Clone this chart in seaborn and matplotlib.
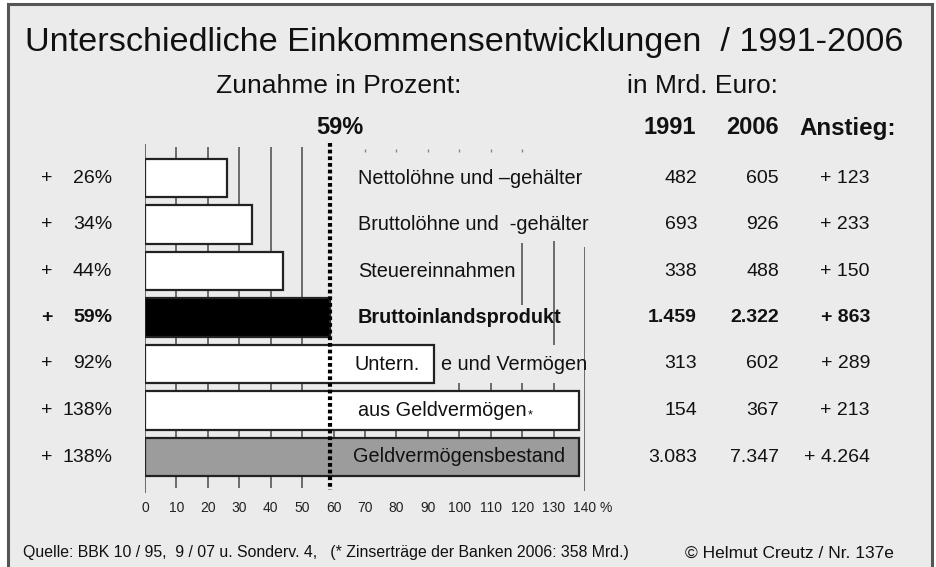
import matplotlib
matplotlib.use("Agg")
import matplotlib.pyplot as plt
from matplotlib import transforms
from matplotlib.patches import Rectangle
import seaborn as sns
import pandas as pd

# ---------------- data ----------------
categories = ["Nettolöhne und –gehälter", "Bruttolöhne und  -gehälter", "Steuereinnahmen",
              "Bruttoinlandsprodukt", "Untern.einkommen und Vermögen",
              "Einkommen aus Geldvermögen", "Geldvermögensbestand"]
pct = [26, 34, 44, 59, 92, 138, 138]
pct_labels = ["26%", "34%", "44%", "59%", "92%", "138%", "138%"]
val_1991 = ["482", "693", "338", "1.459", "313", "154", "3.083"]
val_2006 = ["605", "926", "488", "2.322", "602", "367", "7.347"]
anstieg = ["+ 123", "+ 233", "+ 150", "+ 863", "+ 289", "+ 213", "+ 4.264"]
bar_colors = ["#ffffff", "#ffffff", "#ffffff", "#000000", "#ffffff", "#ffffff", "#9c9c9c"]
bold_rows = [3]
x_ticks = list(range(0, 141, 10))
bip_pct = 59

# ---------------- fonts ----------------
sns.set_style("white")
FONT = "Liberation Sans"
plt.rcParams["font.family"] = [FONT, "DejaVu Sans"]
TXT = "#111111"

W, H = 936, 567
fig = plt.figure(figsize=(W / 100, H / 100), dpi=100)
fig.patch.set_facecolor("white")
fig.patches.append(Rectangle((8 / W, -0.02), 924 / W, 1.02 - 4 / H, transform=fig.transFigure,
                             facecolor="#ebebeb", edgecolor="#555555", linewidth=2.2, zorder=-10))

# axes: x=0 -> px 145, x=140 -> px 585 ; rows at px 178 + 46.5*i
ax_left, ax_right, ax_top, ax_bot = 145, 585, 143, 493
ax = fig.add_axes([ax_left / W, 1 - ax_bot / H, (ax_right - ax_left) / W, (ax_bot - ax_top) / H])
ax.patch.set_alpha(0)
row0, step = 178, 46.5
y_top = (ax_top - row0) / step
y_bot = (ax_bot - row0) / step

df = pd.DataFrame({"cat": categories, "pct": pct})
sns.barplot(data=df, x="pct", y="cat", hue="cat", palette=bar_colors, orient="h", width=0.82,
            edgecolor="#222222", linewidth=1.6, saturation=1, legend=False, ax=ax, zorder=3)

ax.set_xlim(0, 140)
ax.set_ylim(y_bot, y_top)
for s in ax.spines.values():
    s.set_visible(False)
ax.set_xlabel("")
ax.set_ylabel("")
ax.set_yticks([])
ax.set_xticks(x_ticks)
ax.set_xticklabels([str(t) for t in x_ticks], fontsize=10, color="#222222")
ax.tick_params(axis="x", direction="in", length=11.5, width=1.2, color="#555555", pad=6)

# grid / decorative lines
gc, glw = "#555555", 1.2
ax.vlines([0], y_top + 0.03, y_bot, color=gc, lw=glw, zorder=1)
ax.vlines([10, 20, 30, 40, 50], y_top + 0.08, y_bot - 0.1, color=gc, lw=glw, zorder=1)
ax.vlines([100, 110, 120, 130], 4.41, 4.59, color=gc, lw=glw, zorder=1)
ax.vlines([60, 70, 80, 90, 100, 110, 120, 130], 5.41, 5.59, color=gc, lw=glw, zorder=1)
ax.vlines([120], 1.40, 2.73, color=gc, lw=glw, zorder=1)
ax.vlines([130], 1.35, 3.59, color=gc, lw=glw, zorder=1)
ax.vlines([140], 1.48, y_bot - 0.05, color=gc, lw=glw, zorder=1)
ax.vlines([70, 80, 90, 100, 110, 120], -0.62, -0.56, color="#888888", lw=1.0, zorder=1)

# dotted 59% line
ax.vlines([bip_pct], y_top, y_bot - 0.06, color="black", lw=3, linestyles=(0, (0.9, 0.7)), zorder=6)

# row labels in the bar area
lab_x = 67.8
row_texts = ["Nettolöhne und –gehälter", "Bruttolöhne und  -gehälter", "Steuereinnahmen",
             "Bruttoinlandsprodukt", None, None, "Geldvermögensbestand"]
for i, t in enumerate(row_texts):
    if t is None:
        continue
    x = lab_x if i != 6 else 66.2
    ax.text(x, i, t, ha="left", va="center", fontsize=14.3, color=TXT,
            fontweight="bold" if i in bold_rows else "normal", zorder=7)
ax.text(66.8, 4, "Untern.", ha="left", va="center", fontsize=14.3, color=TXT, zorder=7)
ax.text(94.2, 4, "e und Vermögen", ha="left", va="center", fontsize=14.3, color=TXT, zorder=7)
t5 = ax.text(lab_x, 5, "aus Geldvermögen", ha="left", va="center", fontsize=14.3, color=TXT, zorder=7)
ax.annotate("*", xy=(1, 1), xycoords=t5, xytext=(1, -6), textcoords="offset points",
            ha="left", va="top", fontsize=9, color=TXT, zorder=7)

# left percent labels and right-hand columns
bt = transforms.blended_transform_factory(fig.transFigure, ax.transData)
for i in range(len(categories)):
    fw = "bold" if i in bold_rows else "normal"
    ax.text(47 / W, i, "+", transform=bt, ha="center", va="center", fontsize=14, fontweight=fw, color=TXT)
    ax.text(112 / W, i, pct_labels[i], transform=bt, ha="right", va="center", fontsize=14, fontweight=fw, color=TXT)
    ax.text(697 / W, i, val_1991[i], transform=bt, ha="right", va="center", fontsize=14, fontweight=fw, color=TXT)
    ax.text(779 / W, i, val_2006[i], transform=bt, ha="right", va="center", fontsize=14, fontweight=fw, color=TXT)
    ax.text(870 / W, i, anstieg[i], transform=bt, ha="right", va="center", fontsize=14, fontweight=fw, color=TXT)

# headers
def ftext(px, py, s, **kw):
    fig.text(px / W, 1 - py / H, s, **kw)

ftext(599, 508, "%", ha="left", va="center", fontsize=10, color="#222222")
ftext(25, 43, "Unterschiedliche Einkommensentwicklungen  / 1991-2006", ha="left", va="center",
      fontsize=24.7, color=TXT)
ftext(339, 86, "Zunahme in Prozent:", ha="center", va="center", fontsize=19, color=TXT)
ftext(702, 86, "in Mrd. Euro:", ha="center", va="center", fontsize=19, color=TXT)
ftext(340, 128, "59%", ha="center", va="center", fontsize=17, fontweight="bold", color=TXT)
ftext(696, 128, "1991", ha="right", va="center", fontsize=17, fontweight="bold", color=TXT)
ftext(779, 128, "2006", ha="right", va="center", fontsize=17, fontweight="bold", color=TXT)
ftext(799, 128, "Anstieg:", ha="left", va="center", fontsize=17.4, fontweight="bold", color=TXT)

# footer
ftext(23, 553, "Quelle: BBK 10 / 95,  9 / 07 u. Sonderv. 4,   (* Zinserträge der Banken 2006: 358 Mrd.)",
      ha="left", va="center", fontsize=11.4, color=TXT)
ftext(894, 553, "© Helmut Creutz / Nr. 137e", ha="right", va="center", fontsize=12.5,
      color=TXT)

fig.savefig("out.png", dpi=100)
